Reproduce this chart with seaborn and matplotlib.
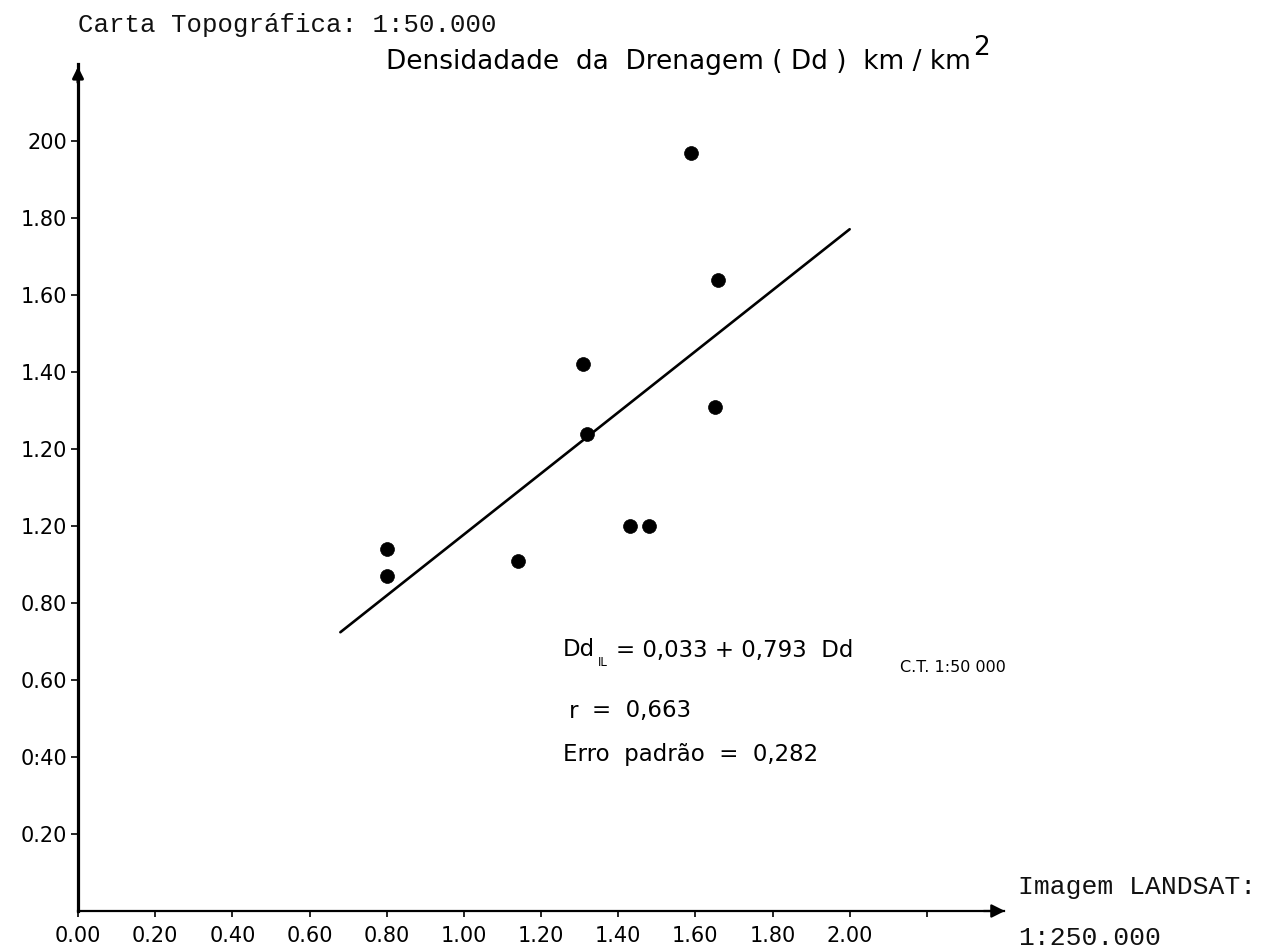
import numpy as np
import pandas as pd
import matplotlib
matplotlib.use("Agg")
import matplotlib.pyplot as plt
import seaborn as sns

# Drainage density per basin: LANDSAT image (x) vs topographic chart (y), km/km2
dd_landsat = [1.59, 1.66, 1.31, 1.32, 1.65, 1.43, 1.48, 0.80, 0.80, 1.14]
dd_carta = [1.97, 1.64, 1.42, 1.24, 1.31, 1.00, 1.00, 0.94, 0.87, 0.91]

# Regression line: slope from the fitted equation, drawn through the sample mean
slope = 0.793
line_range = [0.68, 2.00]

x_ticks = [0.0, 0.2, 0.4, 0.6, 0.8, 1.0, 1.2, 1.4, 1.6, 1.8, 2.0, 2.2]
x_tick_labels = ["0.00", "0.20", "0.40", "0.60", "0.80", "1.00", "1.20",
                 "1.40", "1.60", "1.80", "2.00", ""]
y_ticks = [0.2, 0.4, 0.6, 0.8, 1.0, 1.2, 1.4, 1.6, 1.8, 2.0]
y_tick_labels = ["0.20", "0:40", "0.60", "0.80", "1.20", "1.20", "1.40",
                 "1.60", "1.80", "200"]

sns.set_theme(style="white")
plt.rcParams["font.family"] = ["DejaVu Sans"]

W, H = 1269, 952
fig = plt.figure(figsize=(W / 100, H / 100), dpi=100)
fig.patch.set_facecolor("white")

def fx(px):
    return px / W

def fy(py):
    return 1 - py / H

ax_left, ax_right, ax_top, ax_bottom = 78, 1004, 64, 911
ax = fig.add_axes([fx(ax_left), fy(ax_bottom),
                   fx(ax_right - ax_left), (ax_bottom - ax_top) / H])
ax.set_facecolor("white")

df = pd.DataFrame({"landsat": dd_landsat, "carta": dd_carta})
sns.scatterplot(data=df, x="landsat", y="carta", ax=ax, s=100,
                color="black", edgecolor="black", linewidth=0.5, zorder=3)

x_mean = float(np.mean(dd_landsat))
y_mean = float(np.mean(dd_carta))
intercept = y_mean - slope * x_mean
line_df = pd.DataFrame({"x": line_range,
                        "y": [intercept + slope * v for v in line_range]})
sns.lineplot(data=line_df, x="x", y="y", ax=ax, color="black", linewidth=1.9)

ax.set_xlim(0, 2.40)
ax.set_ylim(0, 2.20)
ax.set_xlabel("")
ax.set_ylabel("")

for side in ["top", "right"]:
    ax.spines[side].set_visible(False)
ax.spines["left"].set_linewidth(2.3)
ax.spines["bottom"].set_linewidth(1.6)
ax.spines["left"].set_color("black")
ax.spines["bottom"].set_color("black")

ax.set_xticks(x_ticks)
ax.set_xticklabels(x_tick_labels, fontsize=15)
ax.set_yticks(y_ticks)
ax.set_yticklabels(y_tick_labels, fontsize=15)
ax.tick_params(axis="x", direction="out", length=4, width=1.2, pad=7,
               colors="black", bottom=True)
ax.tick_params(axis="y", direction="out", length=5, width=1.2, pad=3,
               colors="black", left=True)

# Arrowheads at the ends of both axes
ax.annotate("", xy=(0.0, 1.0), xycoords="axes fraction",
            xytext=(0.0, 0.975), textcoords="axes fraction",
            arrowprops=dict(arrowstyle="-|>", color="black", lw=2.2,
                            mutation_scale=16), annotation_clip=False)
ax.annotate("", xy=(1.004, 0.0), xycoords="axes fraction",
            xytext=(0.975, 0.0), textcoords="axes fraction",
            arrowprops=dict(arrowstyle="-|>", color="black", lw=1.6,
                            mutation_scale=20), annotation_clip=False)

mono = ["Liberation Mono", "DejaVu Sans Mono"]

fig.text(fx(78), fy(25), "Carta Topográfica: 1:50.000", family=mono,
         fontsize=18.5, ha="left", va="center", color="#111111")
fig.text(fx(1018), fy(887), "Imagem LANDSAT:", family=mono,
         fontsize=19, ha="left", va="center", color="#111111")
fig.text(fx(1018), fy(938), "1:250.000", family=mono,
         fontsize=19, ha="left", va="center", color="#111111")

title = fig.text(fx(386), fy(62),
                 "Densidadade  da  Drenagem ( Dd )  km / km",
                 fontsize=19, ha="left", va="center", color="black")
fig.canvas.draw()
bb = title.get_window_extent(renderer=fig.canvas.get_renderer())
fig.text(bb.x1 / W + 0.002, fy(48), "2", fontsize=19, ha="left",
         va="center", color="black")

eq_size = 16.5
fig.text(fx(563), fy(650), "Dd", fontsize=eq_size, ha="left", va="center",
         color="black")
fig.text(fx(598), fy(662), "IL", fontsize=8.5, ha="left", va="center",
         color="black")
fig.text(fx(616), fy(650), "= 0,033 + 0,793  Dd", fontsize=eq_size,
         ha="left", va="center", color="black")
fig.text(fx(900), fy(668), "C.T. 1:50 000", fontsize=11.5, ha="left",
         va="center", color="black")
fig.text(fx(569), fy(711), "r", fontsize=eq_size, ha="left", va="center",
         color="black")
fig.text(fx(592), fy(711), "=  0,663", fontsize=eq_size, ha="left",
         va="center", color="black")
fig.text(fx(563), fy(755), "Erro  padrão  =  0,282", fontsize=eq_size,
         ha="left", va="center", color="black")

fig.savefig("out.png", dpi=100, facecolor="white")
